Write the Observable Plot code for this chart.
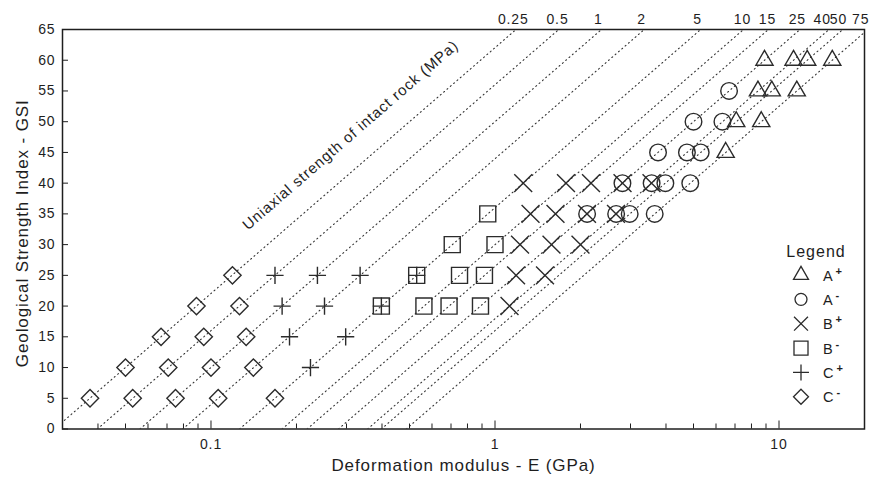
<!DOCTYPE html>
<html>
<head>
<meta charset="utf-8">
<script src="https://cdn.jsdelivr.net/npm/d3@7"></script>
<script src="https://cdn.jsdelivr.net/npm/@observablehq/plot@0.6"></script>
<style>
  body { margin: 0; background: #fff; }
  #wrap { position: relative; width: 874px; height: 477px; font-family: "Liberation Sans", Arial, Helvetica, sans-serif; }
  #wrap svg text { letter-spacing: 0.9px; }
  #overlay { position: absolute; left: 0; top: 0; pointer-events: none; }
</style>
</head>
<body>
<div id="wrap"></div>
<script>
// ---- Reference lines: uniaxial strength of intact rock (MPa) ----
const sigmaLabels = ["0.25", "0.5", "1", "2", "5", "10", "15", "25", "40", "50", "75"];
const lineBottomE = [0.0281, 0.0398, 0.0562, 0.0795, 0.126, 0.178, 0.218, 0.281, 0.356, 0.398, 0.487]; // E at GSI 0
const lineTopE    = [1.186, 1.677, 2.371, 3.354, 5.30, 7.50, 9.18, 11.86, 15.0, 16.77, 20.54];      // E at GSI 65
const lineGSI = [0, 65];
const topLabelE = [1.16, 1.66, 2.31, 3.28, 5.17, 7.44, 9.11, 11.6, 14.2, 16.2, 19.4];

// ---- Data points (E in GPa, GSI) ----
const aPlusE   = [6.49, 7.07, 8.66, 8.43, 9.43, 11.55, 8.89, 11.25, 12.57, 15.40];
const aPlusGSI = [45, 50, 50, 55, 55, 55, 60, 60, 60, 60];

const aMinusE   = [2.11, 2.67, 2.98, 3.65, 2.81, 3.56, 3.98, 4.87, 3.75, 4.74, 5.30, 5.00, 6.32, 6.67];
const aMinusGSI = [35, 35, 35, 35, 40, 40, 40, 40, 45, 45, 45, 50, 50, 55];

const bPlusE   = [1.125, 1.186, 1.50, 1.225, 1.581, 2.00, 1.334, 1.633, 2.108, 2.667, 1.257, 1.778, 2.178, 2.812, 3.557];
const bPlusGSI = [20, 25, 25, 30, 30, 30, 35, 35, 35, 35, 40, 40, 40, 40, 40];

const bMinusE   = [0.398, 0.562, 0.689, 0.889, 0.530, 0.750, 0.918, 0.707, 1.00, 0.943];
const bMinusGSI = [20, 20, 20, 20, 25, 25, 25, 30, 30, 35];

const cPlusE   = [0.224, 0.189, 0.298, 0.178, 0.251, 0.398, 0.168, 0.237, 0.335, 0.530];
const cPlusGSI = [10, 15, 15, 20, 20, 20, 25, 25, 25, 25];

const cMinusE   = [0.0375, 0.053, 0.075, 0.106, 0.168, 0.05, 0.0707, 0.1, 0.141, 0.0667, 0.0943, 0.133, 0.0889, 0.126, 0.119];
const cMinusGSI = [5, 5, 5, 5, 5, 10, 10, 10, 10, 15, 15, 15, 20, 20, 25];

// ---- Axes ----
const yTicks = [0, 5, 10, 15, 20, 25, 30, 35, 40, 45, 50, 55, 60, 65];
const xMajorTicks = [0.1, 1, 10];
const xMajorLabels = ["0.1", "1", "10"];
const xMinorTicks = [0.04, 0.05, 0.06, 0.07, 0.08, 0.09, 0.2, 0.3, 0.4, 0.5, 0.6, 0.7, 0.8, 0.9, 2, 3, 4, 5, 6, 7, 8, 9];

const xTitle = "Deformation modulus - E (GPa)";
const yTitle = "Geological Strength Index - GSI";
const annotation = [{text: "Uniaxial strength of intact rock (MPa)", E: 0.31, GSI: 47.8}];

const legendLabels = [["A", "+"], ["A", "-"], ["B", "+"], ["B", "-"], ["C", "+"], ["C", "-"]];

// ---- Build tables ----
const lineData = sigmaLabels.flatMap((s, i) => [
  {sigma: s, E: lineBottomE[i], GSI: lineGSI[0]},
  {sigma: s, E: lineTopE[i], GSI: lineGSI[1]}
]);
const pts = (E, G) => E.map((e, i) => ({E: e, GSI: G[i]}));
const topLabels = sigmaLabels.map((s, i) => ({label: s, E: topLabelE[i]}));

const mk = {fill: "none", stroke: "#2b2b2b", strokeWidth: 1.4};

const chart = Plot.plot({
  width: 874,
  height: 477,
  marginLeft: 62,
  marginRight: 10,
  marginTop: 29,
  marginBottom: 48.5,
  style: {fontFamily: "'Liberation Sans', Arial, Helvetica, sans-serif", background: "#fff", color: "#1e1e1e"},
  x: {type: "log", domain: [0.03, 20]},
  y: {domain: [0, 65]},
  marks: [
    Plot.line(lineData, {x: "E", y: "GSI", z: "sigma", stroke: "#333", strokeWidth: 1.1, strokeDasharray: "1,3.4", clip: true}),
    Plot.text(topLabels, {x: "E", text: "label", frameAnchor: "top", lineAnchor: "bottom", dy: -6, fontSize: 14, fill: "#1e1e1e"}),
    Plot.text(annotation, {x: "E", y: "GSI", text: "text", rotate: -41, fontSize: 15, fill: "#1e1e1e", ariaLabel: "annotation"}),
    Plot.dot(pts(cMinusE, cMinusGSI), {x: "E", y: "GSI", symbol: "diamond2", r: 7.8, ...mk}),
    Plot.dot(pts(cPlusE, cPlusGSI), {x: "E", y: "GSI", symbol: "plus", r: 5.6, ...mk}),
    Plot.dot(pts(bMinusE, bMinusGSI), {x: "E", y: "GSI", symbol: "square2", r: 10.2, ...mk}),
    Plot.dot(pts(bPlusE, bPlusGSI), {x: "E", y: "GSI", symbol: "times", r: 8.2, ...mk}),
    Plot.dot(pts(aMinusE, aMinusGSI), {x: "E", y: "GSI", symbol: "circle", r: 8.3, ...mk}),
    Plot.dot(pts(aPlusE, aPlusGSI), {x: "E", y: "GSI", symbol: "triangle2", r: 8.2, ...mk}),
    Plot.axisY({ticks: yTicks, tickSize: -6, tickPadding: 13, fontSize: 14, label: null, tickFormat: d => String(d)}),
    Plot.axisX({ticks: xMajorTicks, tickSize: -8, tickPadding: 18, fontSize: 14, label: null, tickFormat: (d) => xMajorLabels[xMajorTicks.indexOf(d)]}),
    Plot.axisX({ticks: xMinorTicks, tickSize: -5, label: null, tickFormat: () => ""}),
    Plot.text([xTitle], {frameAnchor: "bottom", textAnchor: "middle", dy: 42, fontSize: 17, fill: "#1e1e1e", ariaLabel: "xtitle"}),
    Plot.text([yTitle], {frameAnchor: "left", textAnchor: "middle", dx: -40, dy: 4, rotate: -90, fontSize: 17, fill: "#1e1e1e", ariaLabel: "ytitle"}),
    Plot.frame({stroke: "#1e1e1e", strokeWidth: 1.5})
  ]
});

const wrap = document.getElementById("wrap");
wrap.appendChild(chart);
d3.select(chart).selectAll('g[aria-label="xtitle"] text').style("letter-spacing", "1.2px");
d3.select(chart).selectAll('g[aria-label="annotation"] text').style("letter-spacing", "0.45px");

// ---- Legend overlay ----
const ov = d3.select(wrap).append("svg")
  .attr("id", "overlay").attr("width", 874).attr("height", 477);
const legendSymbols = [
  [d3.symbolTriangle2, 160], [d3.symbolCircle, 113], [d3.symbolTimes, 128],
  [d3.symbolSquare2, 250], [d3.symbolPlus, 85], [d3.symbolDiamond2, 143]
];
ov.append("text").attr("x", 816).attr("y", 256.5).attr("text-anchor", "middle")
  .attr("font-size", 16).attr("fill", "#1e1e1e").style("letter-spacing", "1px").text("Legend");
legendLabels.forEach((lab, i) => {
  const cy = 275 + i * 24.35;
  ov.append("path").attr("transform", `translate(801,${cy})`)
    .attr("d", d3.symbol(legendSymbols[i][0], legendSymbols[i][1])())
    .attr("fill", "none").attr("stroke", "#2b2b2b").attr("stroke-width", 1.3);
  const t = ov.append("text").attr("x", 823).attr("y", cy + 5.5).attr("font-size", 14.5).attr("fill", "#1e1e1e");
  t.append("tspan").text(lab[0]);
  t.append("tspan").attr("dx", 2).attr("dy", -6).attr("font-size", 11).attr("font-weight", "bold").text(lab[1]);
});
</script>
</body>
</html>
